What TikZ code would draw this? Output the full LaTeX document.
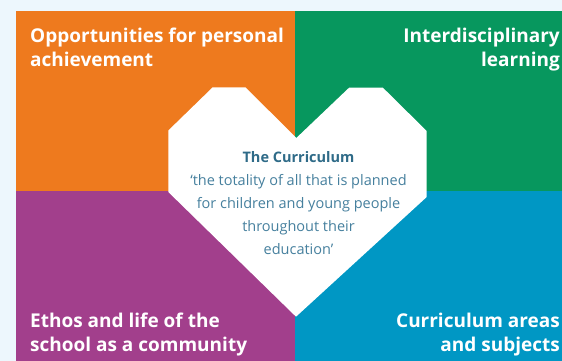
\documentclass[tikz,border=0pt]{standalone}
\usepackage{fontspec}
\setmainfont{Open Sans}
\definecolor{bgc}{HTML}{EDF7FD}
\definecolor{orangec}{HTML}{EE7A1E}
\definecolor{greenc}{HTML}{07975E}
\definecolor{purplec}{HTML}{A23F8C}
\definecolor{bluec}{HTML}{0097C4}
\definecolor{headc}{HTML}{2F6B88}
\definecolor{bodyc}{HTML}{46809E}
\tikzset{
  title/.style={text=white, inner sep=0pt, font=\fontsize{19}{24}\selectfont\bfseries},
  heart/.style={fill=white},
  quote/.style={text=bodyc, inner sep=0pt, align=center, font=\fontsize{14.5}{23}\selectfont}
}
\begin{document}
\begin{tikzpicture}[x=1pt,y=-1pt]
\useasboundingbox (0,0) rectangle (562,361);
\fill[bgc] (0,0) rectangle (562,361);
\fill[orangec] (16,11) rectangle (295,191);
\fill[greenc] (295,11) rectangle (562,191);
\fill[purplec] (16,191) rectangle (295,361);
\fill[bluec] (295,191) rectangle (562,361);
\fill[heart] (212.7,87.3) -- (245.5,87.3) -- (296.3,138) -- (349.3,87.5) -- (382.7,87.5)
  -- (426.7,131) -- (426.7,197) -- (296,316.7) -- (168.3,192) -- (168.3,130.5) -- cycle;
\node[title, anchor=north west, align=left] (opp) at (30,27.5) {Opportunities for personal\\achievement};
\node[title, anchor=north east, align=right] (inter) at (560,27.5) {Interdisciplinary\\learning};
\node[title, anchor=north west, align=left] (ethos) at (30,312.5) {Ethos and life of the\\school as a community};
\node[title, anchor=north east, align=right] (areas) at (560,312.5) {Curriculum areas\\and subjects};
\node[quote, anchor=north] (curr) at (298.5,151.5) {{\bfseries\color{headc}The Curriculum}\\‘the totality of all that is planned\\for children and young people\\throughout their\\education’};
\end{tikzpicture}
\end{document}
